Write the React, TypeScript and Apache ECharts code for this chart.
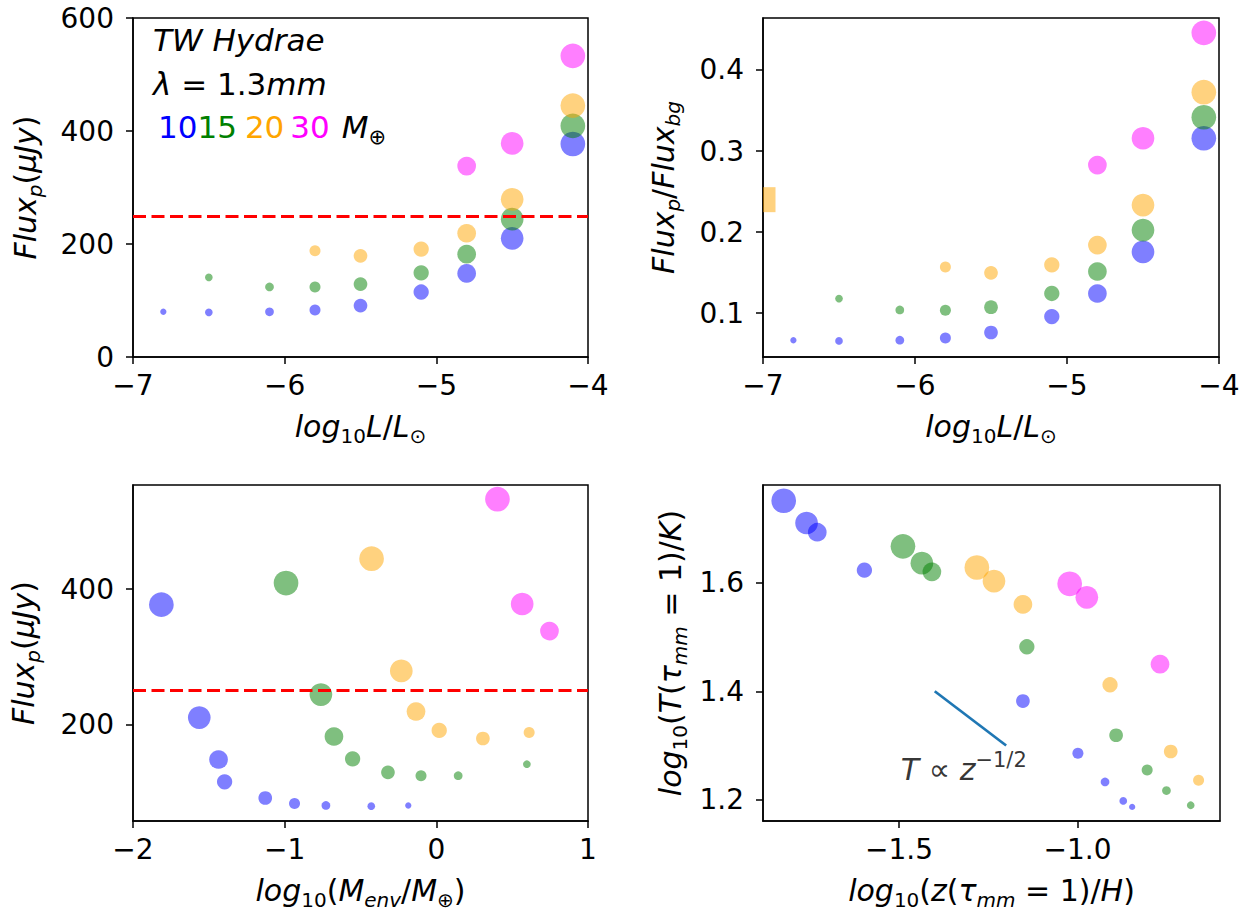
import React, { useEffect, useRef } from "react";
import * as echarts from "echarts";

// ---------- data ----------
const LUM = [-6.8, -6.5, -6.1, -5.8, -5.5, -5.1, -4.8, -4.5, -4.1];
const MARKER_SIZES = [6.3, 7.7, 8.7, 11, 13.7, 15.3, 18.7, 22.7, 24.7];
const MASSES = ["10", "15", "20", "30"];
const MASS_COLORS = ["#0000ff", "#008000", "#ffa500", "#ff00ff"];

// Flux_p (µJy) vs log10 L/Lsun
const FLUX_10 = [80, 79, 80, 83, 91, 115, 148, 210, 377];
const FLUX_15 = [null, 141, 124, 124, 129, 149, 182, 244, 409];
const FLUX_20 = [null, null, null, 188, 179, 191, 219, 279, 445];
const FLUX_30 = [null, null, null, null, null, null, 338, 378, 533];

// Flux_p / Flux_bg vs log10 L/Lsun
const RATIO_10 = [0.0667, 0.0658, 0.0667, 0.0695, 0.0762, 0.0959, 0.1243, 0.1757, 0.3157];
const RATIO_15 = [null, 0.118, 0.104, 0.1037, 0.1074, 0.1243, 0.1514, 0.2025, 0.3416];
const RATIO_20 = [null, null, null, 0.157, 0.1498, 0.1596, 0.184, 0.2333, 0.3725];
const RATIO_30 = [null, null, null, null, null, null, 0.2827, 0.3157, 0.4457];
const OBS_RATIO_POINT = [-7, 0.24];

// log10(M_env / M_earth)
const MENV_10 = [-0.185, -0.429, -0.728, -0.935, -1.128, -1.396, -1.436, -1.563, -1.813];
const MENV_15 = [null, 0.597, 0.144, -0.101, -0.319, -0.552, -0.675, -0.761, -0.991];
const MENV_20 = [null, null, null, 0.612, 0.307, 0.019, -0.134, -0.231, -0.427];
const MENV_30 = [null, null, null, null, null, null, 0.746, 0.566, 0.403];

// log10(z(tau_mm=1)/H) and log10(T(tau_mm=1)/K)
const ZTAU_10 = [-0.847, -0.872, -0.923, -0.999, -1.153, -1.597, -1.729, -1.759, -1.823];
const ZTAU_15 = [null, -0.683, -0.751, -0.805, -0.892, -1.142, -1.408, -1.436, -1.489];
const ZTAU_20 = [null, null, null, -0.661, -0.739, -0.909, -1.153, -1.234, -1.282];
const ZTAU_30 = [null, null, null, null, null, null, -0.769, -0.974, -1.022];
const LOGT_10 = [1.187, 1.198, 1.233, 1.286, 1.382, 1.623, 1.693, 1.71, 1.751];
const LOGT_15 = [null, 1.19, 1.217, 1.255, 1.319, 1.482, 1.62, 1.636, 1.667];
const LOGT_20 = [null, null, null, 1.236, 1.289, 1.412, 1.56, 1.603, 1.628];
const LOGT_30 = [null, null, null, null, null, null, 1.45, 1.573, 1.598];

const FLUX_THRESHOLD = 250;
const SLOPE_X = [-1.4, -1.2];
const SLOPE_Y = [1.4, 1.3];
const SLOPE_LABEL_POS = [-1.495, 1.255];

// tick values
const TL_X_TICKS = [-7, -6, -5, -4];
const TL_Y_TICKS = [0, 200, 400, 600];
const TR_Y_TICKS = [0.1, 0.2, 0.3, 0.4];
const BL_X_TICKS = [-2, -1, 0, 1];
const BL_Y_TICKS = [200, 400];
const BR_X_TICKS = [-1.5, -1.0];
const BR_Y_TICKS = [1.2, 1.4, 1.6];

// ---------- styling ----------
const FONT = "DejaVu Sans";
const TICK_FS = 28;
const LABEL_FS = 30;

const RICH = {
  n: { fontFamily: FONT, fontSize: LABEL_FS, fontStyle: "italic", lineHeight: 40, color: "#000" },
  u: { fontFamily: FONT, fontSize: LABEL_FS, fontStyle: "normal", lineHeight: 40, color: "#000" },
  s: { fontFamily: FONT, fontSize: 20, fontStyle: "italic", lineHeight: 22, verticalAlign: "bottom", color: "#000" },
  su: { fontFamily: FONT, fontSize: 20, fontStyle: "normal", lineHeight: 22, verticalAlign: "bottom", color: "#000" },
  sup: { fontFamily: FONT, fontSize: 21, fontStyle: "normal", lineHeight: 26, verticalAlign: "top", color: "#000" },
};

const fmt = (d: number) => (v: number) => Number(v).toFixed(d).replace("-", "\u2212");

function axis(opts: any) {
  const { grid, min, max, ticks, dec, name, nameGap, isY } = opts;
  return {
    type: "value",
    gridIndex: grid,
    min,
    max,
    name,
    nameLocation: "middle",
    nameGap,
    nameRotate: isY ? 90 : 0,
    nameTextStyle: { fontFamily: FONT, fontSize: LABEL_FS, color: "#000", rich: RICH },
    axisLine: { show: true, onZero: false, lineStyle: { color: "#000", width: 1.5 } },
    axisTick: { show: true, length: 7, customValues: ticks, lineStyle: { color: "#000", width: 1.5 } },
    axisLabel: {
      show: true,
      customValues: ticks,
      color: "#000",
      fontFamily: FONT,
      fontSize: TICK_FS,
      margin: isY ? 19 : 14,
      formatter: fmt(dec),
    },
    splitLine: { show: false },
  };
}

function pts(xs: (number | null)[], ys: (number | null)[]) {
  const out: number[][] = [];
  for (let i = 0; i < LUM.length; i++) {
    const x = xs[i];
    const y = ys[i];
    if (x == null || y == null) continue;
    out.push([x, y, i]);
  }
  return out;
}

function massSeries(panel: number, xsets: any[], ysets: any[]) {
  return MASSES.map((m, k) => ({
    type: "scatter",
    name: m,
    xAxisIndex: panel,
    yAxisIndex: panel,
    data: pts(xsets[k], ysets[k]),
    symbolSize: (v: number[]) => MARKER_SIZES[v[2]],
    itemStyle: { color: MASS_COLORS[k], opacity: 0.5 },
    silent: true,
  }));
}

function thresholdSeries(panel: number) {
  return {
    type: "line",
    xAxisIndex: panel,
    yAxisIndex: panel,
    data: [],
    silent: true,
    markLine: {
      silent: true,
      symbol: "none",
      label: { show: false },
      lineStyle: { color: "#ff0000", type: [13, 5.5], width: 3, opacity: 1 },
      data: [{ yAxis: FLUX_THRESHOLD }],
    },
  };
}

export default function App() {
  const ref = useRef<HTMLDivElement>(null);
  useEffect(() => {
    if (!ref.current) return;
    const chart = echarts.init(ref.current, undefined, { renderer: "svg" });
    const gridStyle = { show: true, borderColor: "#000", borderWidth: 1.5, backgroundColor: "transparent" };
    const option: any = {
      animation: false,
      backgroundColor: "#fff",
      grid: [
        { left: 133, top: 18, width: 455, height: 339, ...gridStyle },
        { left: 763, top: 18, width: 456, height: 339, ...gridStyle },
        { left: 133, top: 485, width: 455, height: 338, ...gridStyle },
        { left: 763, top: 485, width: 457, height: 338, ...gridStyle },
      ],
      xAxis: [
        axis({ grid: 0, min: -7, max: -4, ticks: TL_X_TICKS, dec: 0, nameGap: 49,
          name: "{n|log}{su|10}{n|L}{u|/}{n|L}{su|\u2299}" }),
        axis({ grid: 1, min: -7, max: -4, ticks: TL_X_TICKS, dec: 0, nameGap: 49,
          name: "{n|log}{su|10}{n|L}{u|/}{n|L}{su|\u2299}" }),
        axis({ grid: 2, min: -2, max: 1, ticks: BL_X_TICKS, dec: 0, nameGap: 49,
          name: "{n|log}{su|10}{u|(}{n|M}{s|env}{u|/}{n|M}{su|\u2295}{u|)}" }),
        axis({ grid: 3, min: -1.881, max: -0.601, ticks: BR_X_TICKS, dec: 1, nameGap: 49,
          name: "{n|log}{su|10}{u|(}{n|z}{u|(}{n|\u03c4}{s|mm}{u| = 1)/}{n|H}{u|)}" }),
      ],
      yAxis: [
        axis({ grid: 0, min: 0, max: 600, ticks: TL_Y_TICKS, dec: 0, nameGap: 88, isY: true,
          name: "{n|Flux}{s|p}{u|(}{n|\u03bcJy}{u|)}" }),
        axis({ grid: 1, min: 0.046, max: 0.464, ticks: TR_Y_TICKS, dec: 1, nameGap: 80, isY: true,
          name: "{n|Flux}{s|p}{u|/}{n|Flux}{s|bg}" }),
        axis({ grid: 2, min: 57, max: 554, ticks: BL_Y_TICKS, dec: 0, nameGap: 90, isY: true,
          name: "{n|Flux}{s|p}{u|(}{n|\u03bcJy}{u|)}" }),
        axis({ grid: 3, min: 1.161, max: 1.78, ticks: BR_Y_TICKS, dec: 1, nameGap: 73, isY: true,
          name: "{n|log}{su|10}{u|(}{n|T}{u|(}{n|\u03c4}{s|mm}{u| = 1)/}{n|K}{u|)}" }),
      ],
      series: [
        ...massSeries(0, [LUM, LUM, LUM, LUM], [FLUX_10, FLUX_15, FLUX_20, FLUX_30]),
        thresholdSeries(0),
        ...massSeries(1, [LUM, LUM, LUM, LUM], [RATIO_10, RATIO_15, RATIO_20, RATIO_30]),
        {
          type: "scatter",
          xAxisIndex: 1,
          yAxisIndex: 1,
          data: [OBS_RATIO_POINT],
          symbol: "rect",
          symbolSize: [12.5, 25],
          symbolOffset: [6.25, 0],
          clip: false,
          itemStyle: { color: "#ffa500", opacity: 0.5 },
          silent: true,
        },
        ...massSeries(2, [MENV_10, MENV_15, MENV_20, MENV_30], [FLUX_10, FLUX_15, FLUX_20, FLUX_30]),
        thresholdSeries(2),
        ...massSeries(3, [ZTAU_10, ZTAU_15, ZTAU_20, ZTAU_30], [LOGT_10, LOGT_15, LOGT_20, LOGT_30]),
        {
          type: "line",
          xAxisIndex: 3,
          yAxisIndex: 3,
          data: SLOPE_X.map((x, i) => [x, SLOPE_Y[i]]),
          showSymbol: false,
          symbol: "none",
          lineStyle: { color: "#1f77b4", width: 2.7 },
          silent: true,
        },
        {
          type: "scatter",
          xAxisIndex: 3,
          yAxisIndex: 3,
          data: [SLOPE_LABEL_POS],
          symbolSize: 0,
          silent: true,
          label: {
            show: true,
            position: "right",
            distance: 0,
            formatter: "{n|T}{u| \u221d }{n|z}{sup|\u22121/2}",
            rich: RICH,
          },
        },
      ],
      graphic: [
        {
          type: "text",
          x: 153,
          y: 40,
          style: {
            text: "TW Hydrae",
            fontFamily: FONT,
            fontStyle: "italic",
            fontSize: 31,
            fill: "#000",
            verticalAlign: "middle",
          },
        },
        {
          type: "text",
          x: 153,
          y: 84,
          style: {
            text: "{i|\u03bb}{u| = 1.3}{i|mm}",
            verticalAlign: "middle",
            rich: {
              i: { fontFamily: FONT, fontStyle: "italic", fontSize: 31, lineHeight: 40, fill: "#000" },
              u: { fontFamily: FONT, fontStyle: "normal", fontSize: 31, lineHeight: 40, fill: "#000" },
            },
          },
        },
        {
          type: "text",
          x: 158,
          y: 127,
          style: {
            text: "{b|10}{g|15}{o|20}{m|30}{i|M}{s|\u2295}",
            verticalAlign: "middle",
            rich: {
              b: { fontFamily: FONT, fontSize: 31, lineHeight: 40, fill: MASS_COLORS[0] },
              g: { fontFamily: FONT, fontSize: 31, lineHeight: 40, fill: MASS_COLORS[1] },
              o: { fontFamily: FONT, fontSize: 31, lineHeight: 40, fill: MASS_COLORS[2], padding: [0, 0, 0, 8] },
              m: { fontFamily: FONT, fontSize: 31, lineHeight: 40, fill: MASS_COLORS[3], padding: [0, 0, 0, 6] },
              i: { fontFamily: FONT, fontStyle: "italic", fontSize: 31, lineHeight: 40, fill: "#000", padding: [0, 0, 0, 12] },
              s: { fontFamily: FONT, fontSize: 21, lineHeight: 22, verticalAlign: "bottom", fill: "#000" },
            },
          },
        },
      ],
    };
    chart.setOption(option);
    return () => chart.dispose();
  }, []);
  return (
    <div
      ref={ref}
      style={{ position: "absolute", left: 0, top: 0, width: 1252, height: 911, background: "#fff" }}
    />
  );
}
